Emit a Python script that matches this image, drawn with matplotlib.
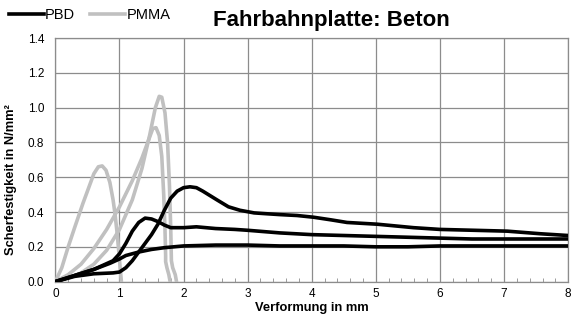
import matplotlib.pyplot as plt
from matplotlib.ticker import MultipleLocator, FormatStrFormatter
from matplotlib.lines import Line2D

plt.rcParams['font.family'] = ['Liberation Sans', 'DejaVu Sans']

# PMMA curves (grey)
pmma1_x = [0, 0.1, 0.2, 0.3, 0.43, 0.52, 0.6, 0.67, 0.73, 0.79, 0.85, 0.9, 0.93, 0.96, 0.99, 1.01, 1.03]
pmma1_y = [0, 0.08, 0.2, 0.31, 0.45, 0.54, 0.62, 0.66, 0.665, 0.64, 0.57, 0.47, 0.39, 0.29, 0.17, 0.08, 0]

pmma2_x = [0, 0.2, 0.4, 0.6, 0.8, 1.0, 1.2, 1.35, 1.45, 1.52, 1.57, 1.62, 1.66, 1.69, 1.71, 1.72, 1.72, 1.74, 1.77, 1.79]
pmma2_y = [0, 0.04, 0.1, 0.19, 0.3, 0.43, 0.58, 0.71, 0.81, 0.88, 0.885, 0.84, 0.72, 0.5, 0.3, 0.15, 0.115, 0.08, 0.04, 0]

pmma3_x = [0, 0.2, 0.4, 0.6, 0.8, 1.0, 1.2, 1.35, 1.47, 1.56, 1.62, 1.66, 1.71, 1.75, 1.78, 1.8, 1.81, 1.83, 1.87, 1.89]
pmma3_y = [0, 0.02, 0.05, 0.1, 0.18, 0.3, 0.47, 0.65, 0.84, 1.0, 1.065, 1.06, 0.97, 0.8, 0.55, 0.3, 0.12, 0.08, 0.04, 0]

# PBD curves (black)
pbd1_x = [0, 0.3, 0.6, 0.9, 1.0, 1.1, 1.2, 1.3, 1.4, 1.5, 1.6, 1.7, 1.8, 1.9, 2.0, 2.1, 2.2, 2.3, 2.52, 2.7, 2.88,
          3.1, 3.3, 3.51, 3.77, 4.03, 4.3, 4.55, 5.02, 5.59, 6.0, 6.53, 7.05, 7.57, 8.0]
pbd1_y = [0, 0.03, 0.045, 0.05, 0.055, 0.08, 0.12, 0.17, 0.22, 0.27, 0.33, 0.41, 0.48, 0.52, 0.54, 0.545, 0.54, 0.52,
          0.47, 0.43, 0.41, 0.395, 0.39, 0.385, 0.38, 0.37, 0.355, 0.34, 0.33, 0.31, 0.30, 0.295, 0.29, 0.275, 0.265]

pbd2_x = [0, 0.3, 0.6, 0.9, 1.0, 1.1, 1.2, 1.3, 1.4, 1.5, 1.6, 1.7, 1.8, 2.0, 2.2, 2.5, 2.8, 3.0, 3.5, 4.0, 4.5,
          5.0, 5.5, 6.0, 6.5, 7.0, 7.5, 8.0]
pbd2_y = [0, 0.035, 0.07, 0.12, 0.16, 0.22, 0.29, 0.34, 0.365, 0.36, 0.345, 0.325, 0.31, 0.31, 0.315, 0.305, 0.3,
          0.295, 0.28, 0.27, 0.265, 0.26, 0.255, 0.25, 0.245, 0.245, 0.245, 0.245]

pbd3_x = [0, 0.3, 0.6, 0.85, 1.0, 1.1, 1.3, 1.5, 1.7, 2.0, 2.5, 3.0, 3.5, 4.0, 4.5, 5.0, 5.5, 6.0, 7.0, 8.0]
pbd3_y = [0, 0.035, 0.07, 0.105, 0.13, 0.15, 0.17, 0.185, 0.195, 0.205, 0.21, 0.21, 0.205, 0.205, 0.205, 0.2, 0.2,
          0.205, 0.205, 0.205]

grey = '#c0c0c0'
lw = 2.6

fig = plt.figure(figsize=(5.71, 3.2), dpi=100)
ax = fig.add_axes([0.097, 0.12, 0.898, 0.761])

for xs, ys in [(pmma1_x, pmma1_y), (pmma2_x, pmma2_y), (pmma3_x, pmma3_y)]:
    ax.plot(xs, ys, color=grey, lw=lw, solid_joinstyle='round', solid_capstyle='round', zorder=3)
for xs, ys in [(pbd1_x, pbd1_y), (pbd2_x, pbd2_y), (pbd3_x, pbd3_y)]:
    ax.plot(xs, ys, color='black', lw=lw, solid_joinstyle='round', solid_capstyle='round', zorder=4)

ax.set_xlim(0, 8)
ax.set_ylim(0, 1.4)
ax.xaxis.set_major_locator(MultipleLocator(1))
ax.xaxis.set_minor_locator(MultipleLocator(0.2))
ax.yaxis.set_major_locator(MultipleLocator(0.2))
ax.yaxis.set_major_formatter(FormatStrFormatter('%.1f'))
ax.grid(True, which='major', color='#8c8c8c', lw=0.9)
ax.set_axisbelow(True)
for s in ax.spines.values():
    s.set_color('#8c8c8c')
    s.set_linewidth(0.9)
ax.tick_params(which='major', length=0, labelsize=8.5)
ax.tick_params(axis='y', pad=8)
ax.tick_params(axis='x', pad=4.5)
ax.tick_params(axis='x', which='minor', direction='in', length=3, color='#8c8c8c', bottom=True)

fig.text(0.546, 0.037, 'Verformung in mm', fontsize=9.3, fontweight='bold', ha='center', va='center')
fig.text(0.019, 0.44, 'Scherfestigkeit in N/mm²', fontsize=9.3, fontweight='bold', ha='center', va='center',
         rotation=90)

fig.text(0.58, 0.935, 'Fahrbahnplatte: Beton', fontsize=16, fontweight='bold', ha='center', va='center')

handles = [Line2D([], [], color='black', lw=lw), Line2D([], [], color=grey, lw=lw)]
fig.legend(handles, ['PBD', 'PMMA'], loc='center left', bbox_to_anchor=(0.0, 0.953), frameon=False,
           ncol=2, fontsize=10.5, handlelength=2.4, handletextpad=0.1, columnspacing=1.0, borderaxespad=0.2)

fig.savefig('out.png', dpi=100)
